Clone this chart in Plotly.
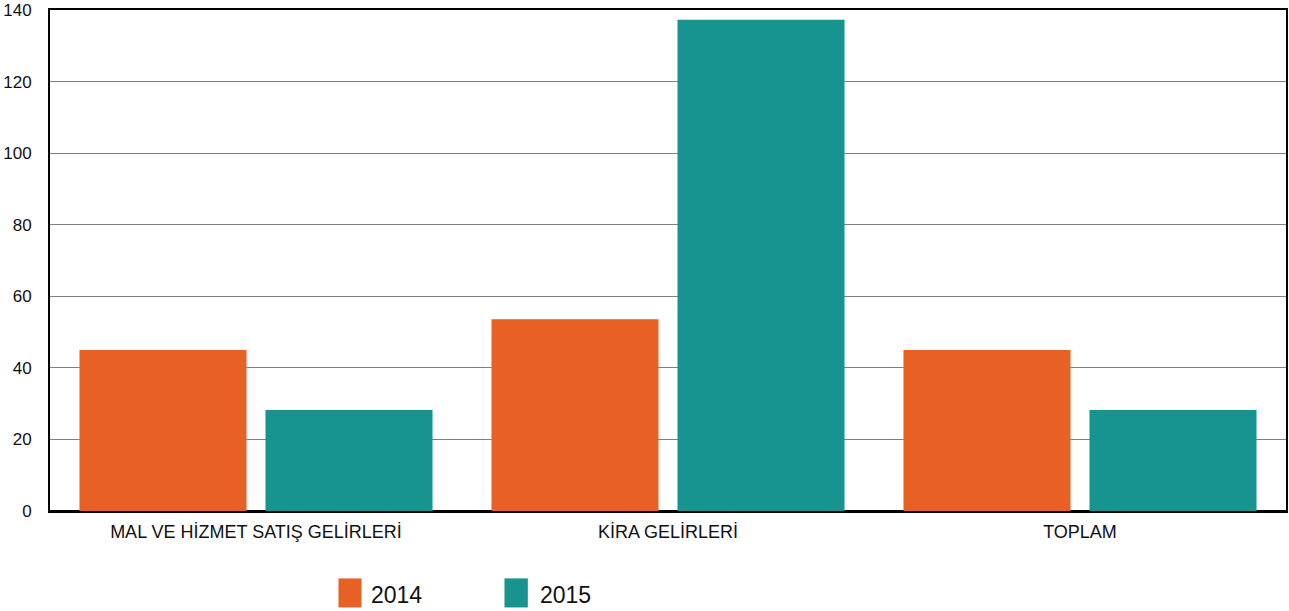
import plotly.graph_objects as go

categories = ["MAL VE HİZMET SATIŞ GELİRLERİ", "KİRA GELİRLERİ", "TOPLAM"]
series_names = ["2014", "2015"]
values_2014 = [45.0, 53.6, 45.0]
values_2015 = [28.2, 137.3, 28.2]
colors = ["#E86124", "#17948F"]
y_ticks = [0, 20, 40, 60, 80, 100, 120, 140]

fig = go.Figure()
for name, vals, col in zip(series_names, [values_2014, values_2015], colors):
    fig.add_trace(go.Bar(x=categories, y=vals, name=name,
                         marker=dict(color=col, line=dict(width=0)), showlegend=False))

# custom legend (large swatches, as in the original)
legend_swatch_x = [(0.2334, 0.2520), (0.3677, 0.3866)]
legend_text_x = [0.2585, 0.3960]
for name, col, (sx0, sx1), tx in zip(series_names, colors, legend_swatch_x, legend_text_x):
    fig.add_shape(type="rect", xref="paper", yref="paper", x0=sx0, x1=sx1,
                  y0=-0.1925, y1=-0.1345, fillcolor=col, line=dict(width=0), layer="above")
    fig.add_annotation(xref="paper", yref="paper", x=tx, y=-0.168, text=name,
                       showarrow=False, xanchor="left", yanchor="middle",
                       font=dict(size=23, color="#111111"), borderpad=0)

fig.update_layout(
    width=1289, height=611,
    margin=dict(l=50, r=3, t=10, b=100, autoexpand=False),
    paper_bgcolor="white", plot_bgcolor="white",
    font=dict(family="Liberation Sans, Arial, sans-serif", color="#111111"),
    barmode="group", bargap=0.097, bargroupgap=0.102,
    showlegend=False,
)
fig.update_xaxes(type="category", showline=True, linecolor="black", linewidth=2, mirror=True,
                 showgrid=False, tickfont=dict(size=18), ticks="", ticklabelstandoff=3,
                 automargin=False)
fig.update_yaxes(range=[0, 140], tickvals=y_ticks, showline=True, linecolor="black", linewidth=2,
                 mirror=True, showgrid=True, gridcolor="#7f7f7f", gridwidth=1.2,
                 zeroline=True, zerolinecolor="black", zerolinewidth=2,
                 tickfont=dict(size=17), ticks="", ticklabelstandoff=13, automargin=False)

fig.write_html("out.html", config={"displayModeBar": False},
               post_script="document.body.style.margin='0';document.body.style.overflow='hidden';")
